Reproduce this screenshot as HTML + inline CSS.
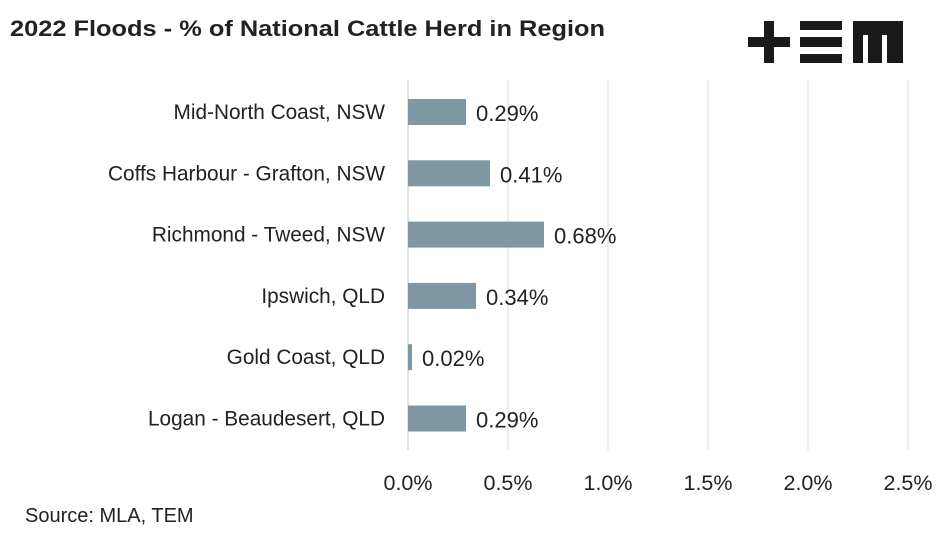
<!DOCTYPE html>
<html><head><meta charset="utf-8"><style>
body{margin:0;background:#fff;width:947px;height:541px;overflow:hidden;font-family:"Liberation Sans",sans-serif;}
</style></head><body>
<svg width="947" height="541" xmlns="http://www.w3.org/2000/svg">
<text x="10" y="36" font-size="22" font-weight="bold" fill="#222" textLength="595" lengthAdjust="spacingAndGlyphs">2022 Floods - % of National Cattle Herd in Region</text>
<g fill="#1a1a1a">
<rect x="748" y="37" width="42" height="10"/><rect x="764" y="21" width="10" height="42"/>
<rect x="800" y="21" width="42" height="9"/><rect x="800" y="37" width="42" height="10"/><rect x="800" y="54" width="42" height="9"/>
<rect x="853" y="21" width="50" height="14"/><rect x="853" y="21" width="10" height="42"/><rect x="868" y="21" width="14" height="42"/><rect x="887" y="21" width="16" height="42"/>
</g>
<g id="grid"></g><g id="bars"></g><g id="ticks"></g>
<text x="25" y="522" font-size="20" fill="#222">Source: MLA, TEM</text>
</svg>
<script>
const categories=["Mid-North Coast, NSW","Coffs Harbour - Grafton, NSW","Richmond - Tweed, NSW","Ipswich, QLD","Gold Coast, QLD","Logan - Beaudesert, QLD"];
const values=[0.29,0.41,0.68,0.34,0.02,0.29];
const ticks=[0,0.5,1.0,1.5,2.0,2.5];
const tickLabels=["0.0%","0.5%","1.0%","1.5%","2.0%","2.5%"];
const NS="http://www.w3.org/2000/svg";
const x=v=>408+v*200;
const y=i=>112+i*61.3;
function mk(t,a,p){const e=document.createElementNS(NS,t);for(const k in a)e.setAttribute(k,a[k]);document.getElementById(p).appendChild(e);return e;}
ticks.forEach((t,i)=>{
 const g=mk('line',{x1:x(t),x2:x(t),y1:80,y2:450,stroke:i==0?'#d9d9d9':'#ebe9df','stroke-width':1.5},'grid');
 
 
 const l=mk('text',{x:x(t),y:490,'font-size':21.5,fill:'#222','text-anchor':'middle'},'ticks');
 l.textContent=tickLabels[i];
 
 
});
categories.forEach((c,i)=>{
 const b=mk('rect',{x:x(0),y:y(i)-13,width:x(values[i])-x(0),height:26,fill:'#7f97a3'},'bars');
 
 
 const v=mk('text',{x:x(values[i])+10,y:y(i)+9,'font-size':22,fill:'#222'},'bars');
 v.textContent=values[i].toFixed(2)+'%';
 
 
 const cl=mk('text',{x:385,y:y(i)+7,'font-size':20.8,fill:'#222','text-anchor':'end'},'bars');
 cl.textContent=c;
 
 
});
</script>
</body></html>
